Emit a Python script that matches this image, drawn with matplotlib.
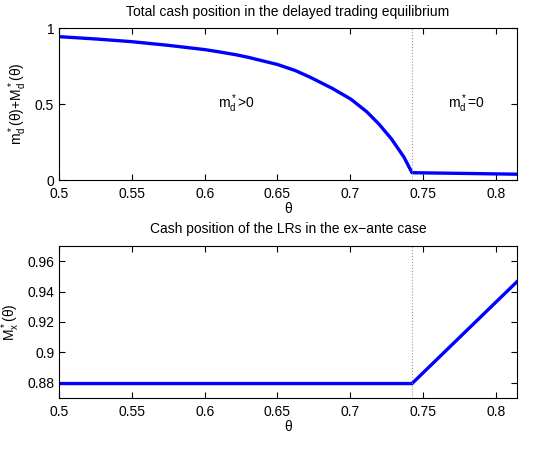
import matplotlib
matplotlib.use("Agg")
import matplotlib.pyplot as plt

plt.rcParams['font.family'] = ['Liberation Sans', 'DejaVu Sans']
plt.rcParams['mathtext.default'] = 'regular'

# Top panel: total cash position (delayed trading)
theta_top = [0.5, 0.525, 0.55, 0.575, 0.6, 0.608, 0.621, 0.630, 0.65, 0.662,
             0.6725, 0.6876, 0.7004, 0.7112, 0.7197, 0.7283, 0.7369, 0.7424,
             0.78, 0.815]
cash_top = [0.943, 0.928, 0.910, 0.886, 0.858, 0.846, 0.825, 0.807, 0.760, 0.721,
            0.676, 0.603, 0.532, 0.450, 0.368, 0.270, 0.150, 0.048,
            0.043, 0.038]

# Bottom panel: cash position of LRs (ex-ante)
theta_bot = [0.5, 0.7424, 0.815]
cash_bot = [0.8795, 0.8795, 0.947]

theta_star = 0.7424
xticks = [0.5, 0.55, 0.6, 0.65, 0.7, 0.75, 0.8]

fig = plt.figure(figsize=(5.56, 4.57), dpi=100)
ax1 = fig.add_axes([59/556, 1-180/457, 458/556, 152/457])
ax2 = fig.add_axes([59/556, 1-398/457, 458/556, 152/457])

for ax in (ax1, ax2):
    ax.tick_params(direction='in', top=True, right=True, labelsize=10, length=4)
    ax.tick_params(axis='x', pad=5)
    ax.set_xlim(0.5, 0.8145)
    ax.set_xticks(xticks)
    ax.set_xticklabels([f"{t:g}" for t in xticks])
    ax.set_xlabel('θ', fontsize=10, labelpad=1)

ax1.plot(theta_top, cash_top, color='#0000ff', lw=2.4, solid_joinstyle='round')
ax1.axvline(theta_star, color='#999999', ls=':', lw=0.8)
ax1.set_ylim(0, 1)
ax1.set_yticks([0, 0.5, 1])
ax1.set_yticklabels(['0', '0.5', '1'])
ax1.set_ylabel(r'm$^*_d$(θ)+M$^*_d$(θ)', fontsize=10)
ax1.set_title('Total cash position in the delayed trading equilibrium', fontsize=10, pad=9)
ax1.text(0.622, 0.5, r'm$^*_d$>0', fontsize=10, ha='center', va='center')
ax1.text(0.78, 0.5, r'm$^*_d$=0', fontsize=10, ha='center', va='center')

ax2.plot(theta_bot, cash_bot, color='#0000ff', lw=2.4)
ax2.axvline(theta_star, color='#999999', ls=':', lw=0.8)
ax2.set_ylim(0.87, 0.97)
yt = [0.88, 0.9, 0.92, 0.94, 0.96]
ax2.set_yticks(yt)
ax2.set_yticklabels([f"{v:g}" for v in yt])
ax2.set_ylabel(r'M$^*_x$(θ)', fontsize=10)
ax2.set_title('Cash position of the LRs in the ex\u2212ante case', fontsize=10, pad=9)

fig.savefig('out.png', dpi=100)
